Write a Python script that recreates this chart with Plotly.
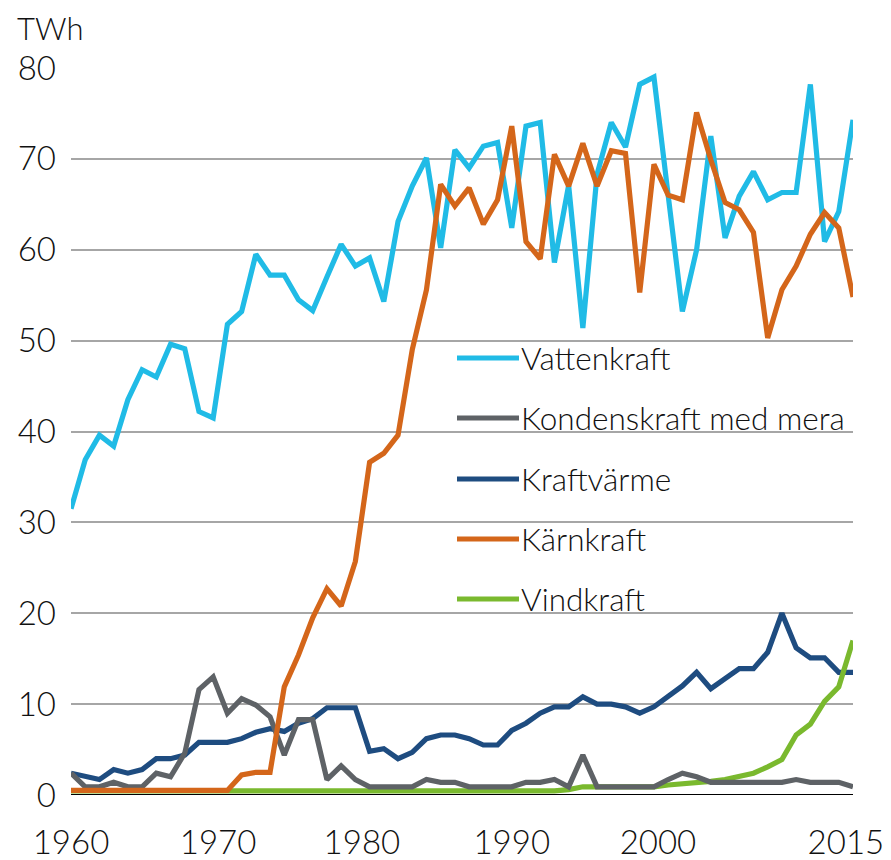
import plotly.graph_objects as go

years = list(range(1960, 2016))

vattenkraft = [31.5, 36.9, 39.6, 38.4, 43.5, 46.8, 46.0, 49.6, 49.1, 42.2,
               41.5, 51.8, 53.2, 59.5, 57.2, 57.2, 54.5, 53.3, 57.0, 60.6,
               58.2, 59.1, 54.3, 63.1, 67.0, 70.1, 60.2, 71.0, 69.0, 71.4,
               71.8, 62.4, 73.6, 74.0, 58.6, 67.1, 51.4, 68.3, 74.0, 71.3,
               78.2, 79.0, 66.0, 53.2, 60.0, 72.5, 61.3, 65.9, 68.6, 65.5,
               66.3, 66.3, 78.2, 60.9, 64.2, 74.3]

kondenskraft = [2.4, 0.9, 0.9, 1.4, 0.9, 0.9, 2.4, 2.0, 4.6, 11.6,
                13.0, 9.0, 10.6, 9.9, 8.6, 4.4, 8.3, 8.3, 1.7, 3.2,
                1.7, 0.9, 0.9, 0.9, 0.9, 1.7, 1.4, 1.4, 0.9, 0.9,
                0.9, 0.9, 1.4, 1.4, 1.7, 0.9, 4.4, 0.9, 0.9, 0.9,
                0.9, 0.9, 1.7, 2.4, 2.0, 1.4, 1.4, 1.4, 1.4, 1.4,
                1.4, 1.7, 1.4, 1.4, 1.4, 0.9]

kraftvarme = [2.4, 2.0, 1.7, 2.8, 2.4, 2.8, 4.0, 4.0, 4.4, 5.8,
              5.8, 5.8, 6.2, 6.9, 7.3, 7.0, 7.9, 8.4, 9.6, 9.6,
              9.6, 4.8, 5.1, 4.0, 4.7, 6.2, 6.6, 6.6, 6.2, 5.5,
              5.5, 7.1, 7.9, 9.0, 9.7, 9.7, 10.8, 10.0, 10.0, 9.7,
              9.0, 9.7, 10.9, 12.0, 13.5, 11.7, 12.8, 13.9, 13.9, 15.7,
              20.0, 16.2, 15.1, 15.1, 13.5, 13.5]

karnkraft = [0.5, 0.5, 0.5, 0.5, 0.5, 0.5, 0.5, 0.5, 0.5, 0.5,
             0.5, 0.5, 2.2, 2.5, 2.5, 11.9, 15.4, 19.5, 22.7, 20.8,
             25.7, 36.6, 37.6, 39.6, 49.0, 55.6, 67.2, 64.8, 66.8, 62.8,
             65.5, 73.6, 60.9, 59.0, 70.5, 67.0, 71.7, 67.0, 70.9, 70.6,
             55.3, 69.4, 66.0, 65.5, 75.1, 69.9, 65.2, 64.4, 61.9, 50.3,
             55.6, 58.2, 61.7, 64.1, 62.4, 54.8]

vindkraft = [0.45] * 35 + [0.6, 0.9, 0.9, 0.9, 0.9,
                           0.9, 0.9, 1.1, 1.2, 1.3, 1.5, 1.7, 2.0, 2.4, 3.1,
                           3.9, 6.6, 7.8, 10.3, 11.9, 17.0]

series_names = ["Vattenkraft", "Kondenskraft med mera", "Kraftvärme", "Kärnkraft", "Vindkraft"]
series_values = [vattenkraft, kondenskraft, kraftvarme, karnkraft, vindkraft]
series_colors = ["#20BBE6", "#5E6266", "#1E4C80", "#D4661A", "#7AB92E"]
draw_order = [2, 4, 1, 0, 3]  # bottom to top

x_tick_labels = ["1960", "1970", "1980", "1990", "2000", "2015"]
x_tick_pos = [1960.0, 1970.34, 1980.46, 1991.0, 2001.28, 2014.5]
y_ticks = [0, 10, 20, 30, 40, 50, 60, 70, 80]

FONT = "Lato"
WEIGHT = 300
OFF = 8  # page body margin
W, H = 891 - OFF, 860 - OFF
# plot area in page pixels: x 71..853, y 68..795
L = 71 - OFF
T = 68 - OFF
R = W - (853 - OFF)
B = H - (795 - OFF)

fig = go.Figure()
for i in draw_order:
    fig.add_trace(go.Scatter(
        x=years, y=series_values[i], mode="lines", name=series_names[i],
        line=dict(color=series_colors[i], width=5.2), showlegend=False,
    ))

plot_w = W - L - R
plot_h = H - T - B


def px_x(px):
    return (px - OFF - L) / plot_w


def px_y(py):
    return (H - B - (py - OFF)) / plot_h


legend_rows = [358, 418, 479, 539, 599]
for name, color, py in zip(series_names, series_colors, legend_rows):
    fig.add_shape(type="line", xref="paper", yref="paper",
                  x0=px_x(457), x1=px_x(519), y0=px_y(py), y1=px_y(py),
                  line=dict(color=color, width=5))
    fig.add_annotation(xref="paper", yref="paper", x=px_x(519), y=px_y(py),
                       text=name, showarrow=False, xanchor="left", yanchor="middle",
                       font=dict(family=FONT, size=31.5, color="#111111", weight=WEIGHT))

fig.add_annotation(xref="paper", yref="paper", x=px_x(16), y=px_y(OFF),
                   text="TWh", showarrow=False, xanchor="left", yanchor="top",
                   borderpad=0,
                   font=dict(family=FONT, size=31, color="#111111", weight=WEIGHT))

fig.update_layout(
    width=W, height=H,
    margin=dict(l=L, r=R, t=T, b=B),
    paper_bgcolor="white", plot_bgcolor="white",
    font=dict(family=FONT, size=33, color="#111111", weight=WEIGHT),
    xaxis=dict(range=[1960, 2015], tickvals=x_tick_pos, ticktext=x_tick_labels,
               showgrid=False, zeroline=False, showline=False, ticks="",
               automargin=False, ticklabelstandoff=25,
               tickfont=dict(size=33, weight=WEIGHT)),
    yaxis=dict(range=[0, 80], tickvals=y_ticks, showgrid=True,
               gridcolor="#A6A6A6", gridwidth=1.5, zeroline=False,
               showline=False, ticks="", ticklabelstandoff=14, automargin=False,
               tickfont=dict(size=33, weight=WEIGHT)),
)

fig.add_shape(type="line", xref="paper", yref="y", x0=0, x1=1, y0=0, y1=0,
              line=dict(color="#000000", width=2), layer="below")

fig.write_html("out.html")
